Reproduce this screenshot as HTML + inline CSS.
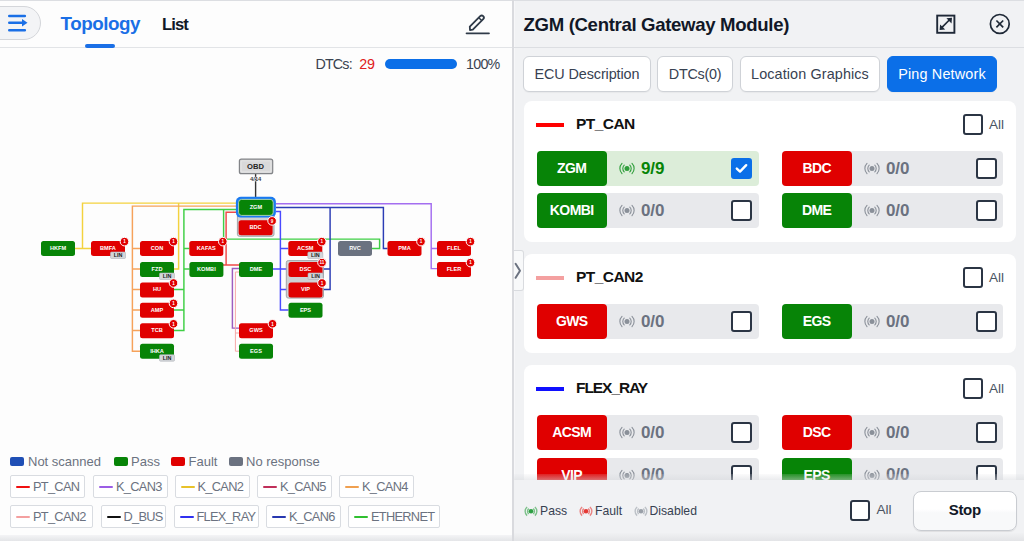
<!DOCTYPE html>
<html><head><meta charset="utf-8">
<style>
*{box-sizing:border-box;margin:0;padding:0}
html,body{width:1024px;height:541px;overflow:hidden;background:#fdfdfd;font-family:"Liberation Sans",sans-serif}
.a{position:absolute}
.t{position:absolute;white-space:nowrap;line-height:1}
#left{left:0;top:0;width:512px;height:541px;background:#fdfdfd}
#right{left:512px;top:0;width:512px;height:541px;background:#f1f2f4;border-left:2px solid #d9dade;box-shadow:inset 1px 0 0 #f7f7f9}
.topline{left:0;top:0;width:1024px;height:1px;background:#dcdee2}
.chip{position:absolute;height:23px;border:1px solid #d9dce1;border-radius:2px;background:#fff}
.chip i{position:absolute;left:5px;top:9.7px;width:14px;height:2.6px;border-radius:1px}
.chip span{position:absolute;left:22px;top:5px;font-size:12.8px;color:#6b7280;letter-spacing:-0.7px;white-space:nowrap;line-height:1}
.sw{position:absolute;top:457px;width:14px;height:9px;border-radius:2px}
.lg{position:absolute;top:455px;font-size:13px;color:#6b7280;line-height:1;white-space:nowrap}
.btn{position:absolute;top:56px;height:36px;border:1px solid #cfd2d7;box-shadow:0 1px 1px rgba(0,0,0,0.04);border-radius:6px;background:#fff;font-size:14.4px;color:#374151;line-height:34px;text-align:center;white-space:nowrap}
.card{position:absolute;left:524.3px;width:491.7px;background:#fff;border-radius:8px}
.bar{position:absolute;width:28px;height:4px}
.ch{position:absolute;font-size:15.5px;letter-spacing:-0.55px;font-weight:bold;color:#111;line-height:1;white-space:nowrap}
.row{position:absolute;width:222px;height:35px;background:#e8e9ec;border-radius:4px}
.row.ok{background:#dcedd9}
.lab{position:absolute;left:0;top:0;width:70px;height:35px;border-radius:4px;color:#fff;font-weight:bold;font-size:14px;letter-spacing:-0.6px;text-align:center;line-height:35.5px;text-indent:-0.6px}
.G{background:#078407}.R{background:#e00000}
.cnt{position:absolute;left:104px;top:8.6px;font-size:17px;letter-spacing:-0.15px;font-weight:bold;color:#6b7280;line-height:1}
.ok .cnt{color:#078407}
.sig{position:absolute;left:82px;top:10px;width:16px;height:15px}
.cb{position:absolute;left:194px;top:7px;width:21px;height:21px;border:2px solid #2b3544;border-radius:3px;background:#fff}
.cb.on{background:#0b6fe8;border-color:#0b6fe8}
.allcb{position:absolute;width:20.5px;height:21px;border:2px solid #2b3544;border-radius:3px;background:#fff}
.allt{position:absolute;font-size:13.6px;color:#4b5563;line-height:1}
</style></head><body>
<div class="a" id="left"></div>
<div class="a" id="right"></div>
<div class="a topline"></div>

<!-- LEFT HEADER -->
<div class="a" style="left:0;top:47px;width:513px;height:1px;background:#e2e4e7"></div>
<div class="a" style="left:-22px;top:6px;width:63px;height:34px;border-radius:17px;background:#f3f4f6;border:1px solid #d4d6da"></div>
<svg class="a" style="left:0;top:0" width="40" height="40">
 <path d="M9.3 16H24.8M9.3 22.8H23.5M9.3 30.2H24.8" stroke="#1a6fe6" stroke-width="2.6" fill="none" stroke-linecap="round"/>
 <path d="M22 19L27.5 22.8L22 26.6Z" fill="#1a6fe6"/>
</svg>
<div class="t" id="topo" style="left:60.5px;top:14.5px;font-size:18.8px;font-weight:bold;color:#1a6fe6;letter-spacing:-0.45px">Topology</div>
<div class="a" style="left:85px;top:44px;width:30px;height:4px;border-radius:2px;background:#1a6fe6"></div>
<div class="t" id="list" style="left:162px;top:16.5px;font-size:16.6px;font-weight:bold;color:#111827;letter-spacing:-0.9px">List</div>
<svg class="a" style="left:460px;top:8px" width="36" height="32">
 <path d="M10 22L9.8 18.6L20.2 8.2A2.1 2.1 0 0 1 23.2 11.2L12.8 21.6Z" stroke="#2f3a48" stroke-width="1.8" fill="none" stroke-linejoin="round"/>
 <path d="M18.8 9.7L21.7 12.6" stroke="#2f3a48" stroke-width="1.4"/>
 <path d="M6.5 25.3H29" stroke="#2f3a48" stroke-width="1.7" stroke-linecap="round"/>
</svg>

<!-- DTC row -->
<div class="t" id="dtcs" style="left:315.5px;top:56.5px;font-size:14.3px;color:#3a4350;letter-spacing:-0.85px">DTCs:</div>
<div class="t" id="n29" style="left:359.3px;top:56.5px;font-size:14.3px;color:#e02020;letter-spacing:-0.3px">29</div>
<div class="a" style="left:384.5px;top:59px;width:72.5px;height:9.6px;border-radius:5px;background:#0b6fe8"></div>
<div class="t" id="pct" style="left:466px;top:56.5px;font-size:14.3px;color:#3a4350;letter-spacing:-0.75px">100%</div>

<!-- DIAGRAM -->
<svg class="a" style="left:0;top:0" width="513" height="400"><style>.nt{font-size:5.6px;font-weight:bold;fill:#fff;text-anchor:middle}.lt{font-size:5.4px;font-weight:bold;fill:#222;text-anchor:middle}.bt{font-size:4.6px;font-weight:bold;fill:#fff;text-anchor:middle}</style><path d="M236 203.1H82.5V248.5H91M82.5 248.5H75" stroke="#f3d23e" stroke-width="1.45" fill="none"/><path d="M178.6 203.1V269H174" stroke="#f3d23e" stroke-width="1.45" fill="none"/><path d="M236 206.1H132.4V351.2H140M132.4 248.5H140M132.4 269H140M132.4 289.5H140M132.4 310H140M132.4 330.5H140" stroke="#f6a25a" stroke-width="1.45" fill="none"/><path d="M236 209.4H183.9V330.4H174M183.9 248.5H189.4M183.9 269H189.4M174 289.5H183.9M174 310H183.9" stroke="#3fcf45" stroke-width="1.45" fill="none"/><path d="M223.6 209.4V239.1H379.6V248.5H371.6" stroke="#3fcf45" stroke-width="1.45" fill="none"/><path d="M236 212.2H226.1V265H239M223 265H226.1" stroke="#f04848" stroke-width="1.45" fill="none"/><path d="M276 203.8H431.2V268.6H437M431.2 248.5H437" stroke="#a46ef0" stroke-width="1.45" fill="none"/><path d="M239 268.5H232.4V328.1H239" stroke="#9d5cc0" stroke-width="1.45" fill="none"/><path d="M239 272H235.4V351.2H239M235.4 333H239" stroke="#f6a8a8" stroke-width="1.0" fill="none"/><path d="M276 207.5H383.4V248.5H387.5M330.1 207.5V289.4H322M322 269H330.1" stroke="#2b3db5" stroke-width="1.45" fill="none"/><path d="M276 211.5H280.4V310H288.5M280.4 248.5H288.2M273 269H288.5M280.4 289.4H288.5" stroke="#4a4aff" stroke-width="1.45" fill="none"/><path d="M255.6 174V197" stroke="#333" stroke-width="1.4" fill="none"/><rect x="237.4" y="214" width="36.6" height="22.3" rx="2" fill="#cfd1d4" stroke="#9b9ea3" stroke-width="0.9"/><rect x="286.3" y="260.6" width="37.2" height="37.5" rx="2" fill="#cfd1d4" stroke="#9b9ea3" stroke-width="0.9"/><rect x="239.4" y="159.1" width="33.3" height="14.6" rx="2" fill="#d9d9da" stroke="#828488" stroke-width="1.2"/><rect x="241.2" y="160.9" width="29.7" height="11" rx="1" fill="none" stroke="#ececec" stroke-width="0.6"/><text x="255.6" y="169.1" style="font-size:7.6px;font-weight:bold;fill:#262626;text-anchor:middle;letter-spacing:0.1px">OBD</text><text x="255.7" y="181" style="font-size:5.8px;font-weight:bold;fill:#3a3a3a;text-anchor:middle;stroke:#fff;stroke-width:0.7px;paint-order:stroke">4/14</text><rect x="235.9" y="196.8" width="40" height="20.8" rx="5" fill="#1a7af0"/><rect x="238.6" y="199.4" width="34.6" height="16" rx="3" fill="#078407" stroke="#b5d9b5" stroke-width="0.9"/><text x="255.9" y="208.70" class="nt">ZGM</text><rect x="238.6" y="220.3" width="34" height="15" rx="2.5" fill="#e00000"/><text x="255.6" y="229.10" class="nt">BDC</text><circle cx="272.1" cy="220.9" r="4.3" fill="#e00000" stroke="#fff" stroke-width="1"/><text x="272.1" y="222.70000000000002" class="bt">9</text><rect x="41" y="241" width="34" height="15" rx="2.5" fill="#078407"/><text x="58.0" y="249.80" class="nt">HKFM</text><rect x="91" y="241" width="34" height="15" rx="2.5" fill="#e00000"/><text x="108.0" y="249.80" class="nt">BMFA</text><rect x="110.5" y="252" width="15" height="6.5" rx="1" fill="#d3d6da" stroke="#b0b4ba" stroke-width="0.6"/><text x="118" y="257.3" class="lt">LIN</text><circle cx="124.5" cy="241.6" r="4.3" fill="#e00000" stroke="#fff" stroke-width="1"/><text x="124.5" y="243.4" class="bt">1</text><rect x="140" y="241" width="34" height="15" rx="2.5" fill="#e00000"/><text x="157.0" y="249.80" class="nt">CON</text><circle cx="173.5" cy="241.6" r="4.3" fill="#e00000" stroke="#fff" stroke-width="1"/><text x="173.5" y="243.4" class="bt">1</text><rect x="189.3" y="241" width="34" height="15" rx="2.5" fill="#e00000"/><text x="206.3" y="249.80" class="nt">KAFAS</text><circle cx="222.8" cy="241.6" r="4.3" fill="#e00000" stroke="#fff" stroke-width="1"/><text x="222.8" y="243.4" class="bt">1</text><rect x="288.3" y="241" width="34" height="15" rx="2.5" fill="#e00000"/><text x="305.3" y="249.80" class="nt">ACSM</text><rect x="307.8" y="252" width="15" height="6.5" rx="1" fill="#d3d6da" stroke="#b0b4ba" stroke-width="0.6"/><text x="315.3" y="257.3" class="lt">LIN</text><circle cx="321.8" cy="241.6" r="4.3" fill="#e00000" stroke="#fff" stroke-width="1"/><text x="321.8" y="243.4" class="bt">1</text><rect x="338" y="241" width="34" height="15" rx="2.5" fill="#6b7280"/><text x="355.0" y="249.80" class="nt">RVC</text><rect x="387.5" y="241" width="34" height="15" rx="2.5" fill="#e00000"/><text x="404.5" y="249.80" class="nt">PMA</text><circle cx="421.0" cy="241.6" r="4.3" fill="#e00000" stroke="#fff" stroke-width="1"/><text x="421.0" y="243.4" class="bt">1</text><rect x="437" y="241" width="34" height="15" rx="2.5" fill="#e00000"/><text x="454.0" y="249.80" class="nt">FLEL</text><circle cx="470.5" cy="241.6" r="4.3" fill="#e00000" stroke="#fff" stroke-width="1"/><text x="470.5" y="243.4" class="bt">1</text><rect x="140" y="262" width="34" height="15" rx="2.5" fill="#078407"/><text x="157.0" y="270.80" class="nt">FZD</text><rect x="159.5" y="273" width="15" height="6.5" rx="1" fill="#d3d6da" stroke="#b0b4ba" stroke-width="0.6"/><text x="167" y="278.3" class="lt">LIN</text><rect x="189.4" y="262" width="34" height="15" rx="2.5" fill="#078407"/><text x="206.4" y="270.80" class="nt">KOMBI</text><rect x="239" y="262" width="34" height="15" rx="2.5" fill="#078407"/><text x="256.0" y="270.80" class="nt">DME</text><rect x="288.5" y="262" width="34" height="15" rx="2.5" fill="#e00000"/><text x="305.5" y="270.80" class="nt">DSC</text><rect x="308.0" y="273" width="15" height="6.5" rx="1" fill="#d3d6da" stroke="#b0b4ba" stroke-width="0.6"/><text x="315.5" y="278.3" class="lt">LIN</text><circle cx="322.0" cy="262.6" r="4.3" fill="#e00000" stroke="#fff" stroke-width="1"/><text x="322.0" y="264.4" class="bt">11</text><rect x="437" y="262" width="34" height="15" rx="2.5" fill="#e00000"/><text x="454.0" y="270.80" class="nt">FLER</text><circle cx="470.5" cy="262.6" r="4.3" fill="#e00000" stroke="#fff" stroke-width="1"/><text x="470.5" y="264.4" class="bt">1</text><rect x="140" y="282.4" width="34" height="15" rx="2.5" fill="#e00000"/><text x="157.0" y="291.20" class="nt">HU</text><circle cx="173.5" cy="283.0" r="4.3" fill="#e00000" stroke="#fff" stroke-width="1"/><text x="173.5" y="284.79999999999995" class="bt">1</text><rect x="288.5" y="282.4" width="34" height="15" rx="2.5" fill="#e00000"/><text x="305.5" y="291.20" class="nt">VIP</text><circle cx="322.0" cy="283.0" r="4.3" fill="#e00000" stroke="#fff" stroke-width="1"/><text x="322.0" y="284.79999999999995" class="bt">1</text><rect x="140" y="302.8" width="34" height="15" rx="2.5" fill="#e00000"/><text x="157.0" y="311.60" class="nt">AMP</text><circle cx="173.5" cy="303.40000000000003" r="4.3" fill="#e00000" stroke="#fff" stroke-width="1"/><text x="173.5" y="305.2" class="bt">1</text><rect x="288.5" y="302.8" width="34" height="15" rx="2.5" fill="#078407"/><text x="305.5" y="311.60" class="nt">EPS</text><rect x="140" y="323.2" width="34" height="15" rx="2.5" fill="#e00000"/><text x="157.0" y="332.00" class="nt">TCB</text><circle cx="173.5" cy="323.8" r="4.3" fill="#e00000" stroke="#fff" stroke-width="1"/><text x="173.5" y="325.59999999999997" class="bt">1</text><rect x="239" y="323.2" width="34" height="15" rx="2.5" fill="#e00000"/><text x="256.0" y="332.00" class="nt">GWS</text><circle cx="272.5" cy="323.8" r="4.3" fill="#e00000" stroke="#fff" stroke-width="1"/><text x="272.5" y="325.59999999999997" class="bt">1</text><rect x="140" y="343.7" width="34" height="15" rx="2.5" fill="#078407"/><text x="157.0" y="352.50" class="nt">IHKA</text><rect x="159.5" y="354.7" width="15" height="6.5" rx="1" fill="#d3d6da" stroke="#b0b4ba" stroke-width="0.6"/><text x="167" y="360.0" class="lt">LIN</text><rect x="239" y="343.7" width="34" height="15" rx="2.5" fill="#078407"/><text x="256.0" y="352.50" class="nt">EGS</text></svg>

<!-- LEGEND -->
<div class="sw" style="left:10px;background:#1f4fb5"></div><div class="lg" style="left:28px">Not scanned</div>
<div class="sw" style="left:113.5px;background:#078407"></div><div class="lg" style="left:131px">Pass</div>
<div class="sw" style="left:171px;background:#e00000"></div><div class="lg" style="left:188.5px">Fault</div>
<div class="sw" style="left:228.5px;background:#6b7280"></div><div class="lg" style="left:246px">No response</div>

<div class="chip" style="left:10px;top:475px;width:75px"><i style="background:#f01010"></i><span>PT_CAN</span></div>
<div class="chip" style="left:93px;top:475px;width:74.5px"><i style="background:#9b5de5"></i><span>K_CAN3</span></div>
<div class="chip" style="left:174.5px;top:475px;width:75px"><i style="background:#e8c22a"></i><span>K_CAN2</span></div>
<div class="chip" style="left:257px;top:475px;width:74.5px"><i style="background:#c0305a"></i><span>K_CAN5</span></div>
<div class="chip" style="left:339px;top:475px;width:75px"><i style="background:#f0a050"></i><span>K_CAN4</span></div>
<div class="chip" style="left:10px;top:505px;width:82.5px"><i style="background:#f4a0a0"></i><span>PT_CAN2</span></div>
<div class="chip" style="left:100.5px;top:505px;width:65px"><i style="background:#111"></i><span>D_BUS</span></div>
<div class="chip" style="left:173.5px;top:505px;width:85px"><i style="background:#3030f0"></i><span>FLEX_RAY</span></div>
<div class="chip" style="left:266px;top:505px;width:74.5px"><i style="background:#2838b0"></i><span>K_CAN6</span></div>
<div class="chip" style="left:348px;top:505px;width:92px"><i style="background:#30c030"></i><span>ETHERNET</span></div>

<div class="a" style="left:0;top:534.5px;width:512px;height:6.5px;background:linear-gradient(#f4f4f6,#e4e5e8)"></div>

<!-- RIGHT PANEL -->
<div class="t" id="title" style="left:523.5px;top:16px;font-size:18.6px;font-weight:bold;color:#111827;letter-spacing:-0.33px">ZGM (Central Gateway Module)</div><svg class="a" style="left:930px;top:8px" width="32" height="32"><rect x="7.2" y="7.6" width="17.2" height="17.2" stroke="#1f2937" stroke-width="1.9" fill="none"/><path d="M11.5 19.8L19.8 11.5" stroke="#1f2937" stroke-width="1.7"/><path d="M22 9.8L16.4 10.3L21.5 15.4Z M9.6 22L10.1 16.4L15.2 21.5Z" fill="#1f2937"/></svg><svg class="a" style="left:984px;top:8px" width="32" height="32"><circle cx="15.8" cy="15.9" r="9.4" stroke="#1f2937" stroke-width="1.7" fill="none"/><path d="M12.4 12.5L19.2 19.3M19.2 12.5L12.4 19.3" stroke="#1f2937" stroke-width="1.7"/></svg><div class="a" style="left:514px;top:47px;width:510px;height:1px;background:#dcdee2"></div><div class="btn" style="left:523px;width:128px;letter-spacing:-0.1px">ECU Description</div><div class="btn" style="left:657px;width:76px;letter-spacing:-0.27px">DTCs(0)</div><div class="btn" style="left:740px;width:140px;letter-spacing:0.11px">Location Graphics</div><div class="btn" style="left:887px;width:110px;letter-spacing:0.17px;background:#0b6fe8;border-color:#0b6fe8;color:#fff">Ping Network</div><div class="card" style="top:101px;height:141px"></div><div class="bar" style="left:536px;top:122.5px;background:#ff0000"></div><div class="ch" style="left:576px;top:116px">PT_CAN</div><div class="allcb" style="left:962.5px;top:114px"></div><div class="allt" style="left:989px;top:117.5px">All</div><div class="row ok" style="left:537px;top:151px;width:222px"><div class="lab G">ZGM</div><svg class="sig" viewBox="0 0 16 15"><circle cx="8" cy="7.5" r="2.5" fill="#2e9e3a"/><path d="M5.2 4.2A4.6 4.6 0 0 0 5.2 10.8M10.8 4.2A4.6 4.6 0 0 1 10.8 10.8M3 2.4A7.2 7.2 0 0 0 3 12.6M13 2.4A7.2 7.2 0 0 1 13 12.6" stroke="#2e9e3a" stroke-width="1.1" fill="none" stroke-linecap="round"/></svg><div class="cnt">9/9</div><div class="cb on"><svg width="17" height="17" style="position:absolute;left:0;top:0"><path d="M3.8 8.6L7 11.6L13.2 5.2" stroke="#fff" stroke-width="2.4" fill="none" stroke-linecap="round" stroke-linejoin="round"/></svg></div></div><div class="row" style="left:782px;top:151px;width:221px"><div class="lab R">BDC</div><svg class="sig" viewBox="0 0 16 15"><circle cx="8" cy="7.5" r="2.5" fill="#8a9099"/><path d="M5.2 4.2A4.6 4.6 0 0 0 5.2 10.8M10.8 4.2A4.6 4.6 0 0 1 10.8 10.8M3 2.4A7.2 7.2 0 0 0 3 12.6M13 2.4A7.2 7.2 0 0 1 13 12.6" stroke="#8a9099" stroke-width="1.1" fill="none" stroke-linecap="round"/></svg><div class="cnt">0/0</div><div class="cb"></div></div><div class="row" style="left:537px;top:193px;width:222px"><div class="lab G">KOMBI</div><svg class="sig" viewBox="0 0 16 15"><circle cx="8" cy="7.5" r="2.5" fill="#8a9099"/><path d="M5.2 4.2A4.6 4.6 0 0 0 5.2 10.8M10.8 4.2A4.6 4.6 0 0 1 10.8 10.8M3 2.4A7.2 7.2 0 0 0 3 12.6M13 2.4A7.2 7.2 0 0 1 13 12.6" stroke="#8a9099" stroke-width="1.1" fill="none" stroke-linecap="round"/></svg><div class="cnt">0/0</div><div class="cb"></div></div><div class="row" style="left:782px;top:193px;width:221px"><div class="lab G">DME</div><svg class="sig" viewBox="0 0 16 15"><circle cx="8" cy="7.5" r="2.5" fill="#8a9099"/><path d="M5.2 4.2A4.6 4.6 0 0 0 5.2 10.8M10.8 4.2A4.6 4.6 0 0 1 10.8 10.8M3 2.4A7.2 7.2 0 0 0 3 12.6M13 2.4A7.2 7.2 0 0 1 13 12.6" stroke="#8a9099" stroke-width="1.1" fill="none" stroke-linecap="round"/></svg><div class="cnt">0/0</div><div class="cb"></div></div><div class="card" style="top:254px;height:98.5px"></div><div class="bar" style="left:536px;top:275.5px;background:#f4a0a0"></div><div class="ch" style="left:576px;top:269px">PT_CAN2</div><div class="allcb" style="left:962.5px;top:267px"></div><div class="allt" style="left:989px;top:270.5px">All</div><div class="row" style="left:537px;top:304px;width:222px"><div class="lab R">GWS</div><svg class="sig" viewBox="0 0 16 15"><circle cx="8" cy="7.5" r="2.5" fill="#8a9099"/><path d="M5.2 4.2A4.6 4.6 0 0 0 5.2 10.8M10.8 4.2A4.6 4.6 0 0 1 10.8 10.8M3 2.4A7.2 7.2 0 0 0 3 12.6M13 2.4A7.2 7.2 0 0 1 13 12.6" stroke="#8a9099" stroke-width="1.1" fill="none" stroke-linecap="round"/></svg><div class="cnt">0/0</div><div class="cb"></div></div><div class="row" style="left:782px;top:304px;width:221px"><div class="lab G">EGS</div><svg class="sig" viewBox="0 0 16 15"><circle cx="8" cy="7.5" r="2.5" fill="#8a9099"/><path d="M5.2 4.2A4.6 4.6 0 0 0 5.2 10.8M10.8 4.2A4.6 4.6 0 0 1 10.8 10.8M3 2.4A7.2 7.2 0 0 0 3 12.6M13 2.4A7.2 7.2 0 0 1 13 12.6" stroke="#8a9099" stroke-width="1.1" fill="none" stroke-linecap="round"/></svg><div class="cnt">0/0</div><div class="cb"></div></div><div class="card" style="top:365px;height:140px"></div><div class="bar" style="left:536px;top:386.5px;background:#1010ff"></div><div class="ch" style="left:576px;top:380px;letter-spacing:-1.05px">FLEX_RAY</div><div class="allcb" style="left:962.5px;top:378px"></div><div class="allt" style="left:989px;top:381.5px">All</div><div class="row" style="left:537px;top:415px;width:222px"><div class="lab R">ACSM</div><svg class="sig" viewBox="0 0 16 15"><circle cx="8" cy="7.5" r="2.5" fill="#8a9099"/><path d="M5.2 4.2A4.6 4.6 0 0 0 5.2 10.8M10.8 4.2A4.6 4.6 0 0 1 10.8 10.8M3 2.4A7.2 7.2 0 0 0 3 12.6M13 2.4A7.2 7.2 0 0 1 13 12.6" stroke="#8a9099" stroke-width="1.1" fill="none" stroke-linecap="round"/></svg><div class="cnt">0/0</div><div class="cb"></div></div><div class="row" style="left:782px;top:415px;width:221px"><div class="lab R">DSC</div><svg class="sig" viewBox="0 0 16 15"><circle cx="8" cy="7.5" r="2.5" fill="#8a9099"/><path d="M5.2 4.2A4.6 4.6 0 0 0 5.2 10.8M10.8 4.2A4.6 4.6 0 0 1 10.8 10.8M3 2.4A7.2 7.2 0 0 0 3 12.6M13 2.4A7.2 7.2 0 0 1 13 12.6" stroke="#8a9099" stroke-width="1.1" fill="none" stroke-linecap="round"/></svg><div class="cnt">0/0</div><div class="cb"></div></div><div class="row" style="left:537px;top:457.5px;width:222px"><div class="lab R">VIP</div><svg class="sig" viewBox="0 0 16 15"><circle cx="8" cy="7.5" r="2.5" fill="#8a9099"/><path d="M5.2 4.2A4.6 4.6 0 0 0 5.2 10.8M10.8 4.2A4.6 4.6 0 0 1 10.8 10.8M3 2.4A7.2 7.2 0 0 0 3 12.6M13 2.4A7.2 7.2 0 0 1 13 12.6" stroke="#8a9099" stroke-width="1.1" fill="none" stroke-linecap="round"/></svg><div class="cnt">0/0</div><div class="cb"></div></div><div class="row" style="left:782px;top:457.5px;width:221px"><div class="lab G">EPS</div><svg class="sig" viewBox="0 0 16 15"><circle cx="8" cy="7.5" r="2.5" fill="#8a9099"/><path d="M5.2 4.2A4.6 4.6 0 0 0 5.2 10.8M10.8 4.2A4.6 4.6 0 0 1 10.8 10.8M3 2.4A7.2 7.2 0 0 0 3 12.6M13 2.4A7.2 7.2 0 0 1 13 12.6" stroke="#8a9099" stroke-width="1.1" fill="none" stroke-linecap="round"/></svg><div class="cnt">0/0</div><div class="cb"></div></div><div class="a" style="left:512px;top:250px;width:11.5px;height:40.5px;background:#f8f9fa;border:1px solid #d9dbdf;border-left:none;border-radius:0 3px 3px 0"></div><svg class="a" style="left:512px;top:262px" width="12" height="18"><path d="M3.6 1.8L8 8.8L3.6 15.8" stroke="#6b7280" stroke-width="2" fill="none" stroke-linecap="round" stroke-linejoin="round"/></svg><div class="a" style="left:514px;top:474px;width:510px;height:6px;background:linear-gradient(rgba(225,227,230,0.15),rgba(215,217,221,0.5))"></div><div class="a" style="left:514px;top:480px;width:510px;height:54px;background:#f1f2f4"></div><svg class="a" style="left:524px;top:506px" width="14" height="10.5" viewBox="0 0 14 10.5"><circle cx="7" cy="5.25" r="2.3" fill="#2ea043"/><path d="M4.75 2.6A3.5 3.5 0 0 0 4.75 7.9M9.25 2.6A3.5 3.5 0 0 1 9.25 7.9M3.1 0.9A5.8 5.8 0 0 0 3.1 9.6M10.9 0.9A5.8 5.8 0 0 1 10.9 9.6" stroke="#2ea043" stroke-width="1.4" fill="none" opacity="0.6"/></svg><div class="t" style="left:540px;top:505px;font-size:12.2px;color:#374151">Pass</div><svg class="a" style="left:579px;top:506px" width="14" height="10.5" viewBox="0 0 14 10.5"><circle cx="7" cy="5.25" r="2.3" fill="#e53935"/><path d="M4.75 2.6A3.5 3.5 0 0 0 4.75 7.9M9.25 2.6A3.5 3.5 0 0 1 9.25 7.9M3.1 0.9A5.8 5.8 0 0 0 3.1 9.6M10.9 0.9A5.8 5.8 0 0 1 10.9 9.6" stroke="#e53935" stroke-width="1.4" fill="none" opacity="0.6"/></svg><div class="t" style="left:595px;top:505px;font-size:12.2px;color:#374151">Fault</div><svg class="a" style="left:634px;top:506px" width="14" height="10.5" viewBox="0 0 14 10.5"><circle cx="7" cy="5.25" r="2.3" fill="#9aa0a8"/><path d="M4.75 2.6A3.5 3.5 0 0 0 4.75 7.9M9.25 2.6A3.5 3.5 0 0 1 9.25 7.9M3.1 0.9A5.8 5.8 0 0 0 3.1 9.6M10.9 0.9A5.8 5.8 0 0 1 10.9 9.6" stroke="#9aa0a8" stroke-width="1.4" fill="none" opacity="0.6"/></svg><div class="t" style="left:649.5px;top:505px;font-size:12.2px;color:#374151">Disabled</div><div class="allcb" style="left:849.5px;top:500px"></div><div class="allt" style="left:876.5px;top:503px">All</div><div class="a" style="left:912.5px;top:491px;width:104.5px;height:39.5px;background:linear-gradient(#fff 0%,#fff 45%,#f8f9fa 55%,#f8f9fa 100%);border:1px solid #c9ccd1;border-radius:8px;box-shadow:0 1px 1px rgba(0,0,0,0.08);font-size:15px;font-weight:bold;color:#111827;text-align:center;line-height:35.5px;letter-spacing:-0.3px">Stop</div><div class="a" style="left:514px;top:532.5px;width:510px;height:8.5px;background:linear-gradient(#f0f1f3,#e3e4e7)"></div><div class="a" style="left:512px;top:0;width:2px;height:541px;background:#d9dade"></div>

</body></html>
